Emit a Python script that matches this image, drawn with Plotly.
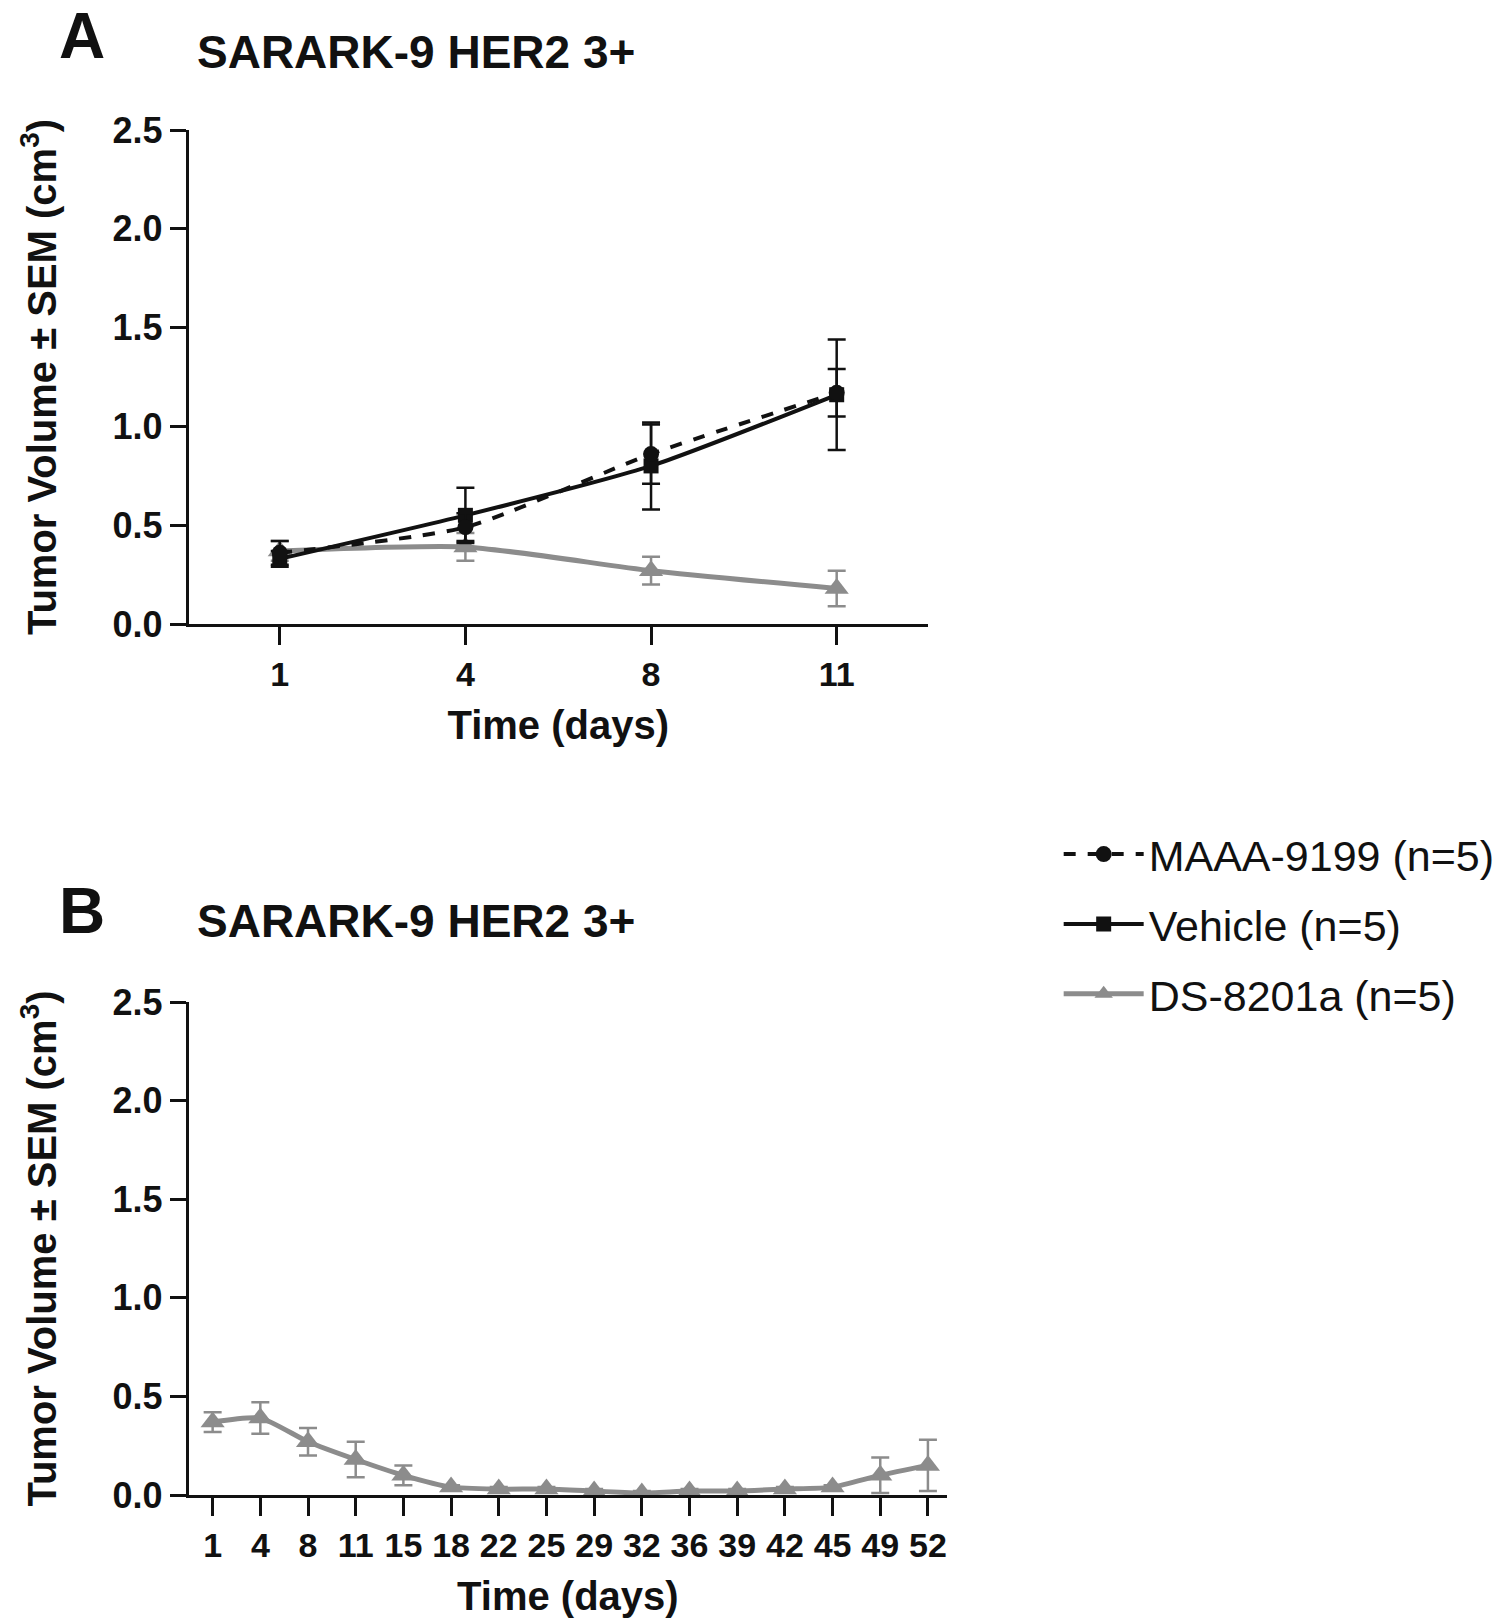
import plotly.graph_objects as go

# panel A (days 1-11)
days_a = ["1", "4", "8", "11"]
maaa_a = [0.36, 0.49, 0.86, 1.17]
maaa_a_err = [0.06, 0.07, 0.15, 0.12]
vehicle_a = [0.33, 0.55, 0.80, 1.16]
vehicle_a_err = [0.04, 0.14, 0.22, 0.28]
ds_a = [0.37, 0.39, 0.27, 0.18]
ds_a_err = [0.05, 0.07, 0.07, 0.09]

# panel B (DS-8201a up to day 52)
days_b = ["1", "4", "8", "11", "15", "18", "22", "25", "29", "32", "36", "39", "42", "45", "49", "52"]
ds_b = [0.37, 0.39, 0.27, 0.18, 0.10, 0.04, 0.03, 0.03, 0.02, 0.01, 0.02, 0.02, 0.03, 0.04, 0.10, 0.15]
ds_b_err = [0.05, 0.08, 0.07, 0.09, 0.05, 0.01, 0.01, 0.01, 0.01, 0.01, 0.01, 0.01, 0.01, 0.01, 0.09, 0.13]

y_ticks = [0.0, 0.5, 1.0, 1.5, 2.0, 2.5]

BLACK = "#111111"
GREY = "#8c8c8c"
ARIAL = "Liberation Sans, Arial"

fig = go.Figure()

def err(vals, color):
    return dict(type="data", array=vals, visible=True, color=color, thickness=2.5, width=9)

fig.add_trace(go.Scatter(x=days_a, y=ds_a, error_y=err(ds_a_err, GREY), mode="lines+markers",
                         name="DS-8201a (n=5)", legendgroup="c", legendrank=3,
                         line=dict(color=GREY, width=5, shape="spline", smoothing=0.6),
                         marker=dict(symbol="triangle-up", size=21, color=GREY),
                         xaxis="x", yaxis="y"))
fig.add_trace(go.Scatter(x=days_a, y=vehicle_a, error_y=err(vehicle_a_err, BLACK), mode="lines+markers",
                         name="Vehicle (n=5)", legendgroup="b", legendrank=2,
                         line=dict(color=BLACK, width=4, shape="spline", smoothing=0.6),
                         marker=dict(symbol="square", size=15, color=BLACK),
                         xaxis="x", yaxis="y"))
fig.add_trace(go.Scatter(x=days_a, y=maaa_a, error_y=err(maaa_a_err, BLACK), mode="lines+markers",
                         name="MAAA-9199 (n=5)", legendgroup="a", legendrank=1,
                         line=dict(color=BLACK, width=4, dash="dash", shape="spline", smoothing=0.6),
                         marker=dict(symbol="circle", size=16, color=BLACK),
                         xaxis="x", yaxis="y"))
fig.add_trace(go.Scatter(x=days_b, y=ds_b, error_y=err(ds_b_err, GREY), mode="lines+markers",
                         name="DS-8201a (n=5)", legendgroup="c", showlegend=False,
                         line=dict(color=GREY, width=5, shape="spline", smoothing=0.6),
                         marker=dict(symbol="triangle-up", size=21, color=GREY),
                         xaxis="x2", yaxis="y2"))

ytitle = "Tumor Volume ± SEM (cm<sup>3</sup>)"

def xaxis(dom, rng, anchor):
    return dict(domain=dom, range=rng, type="category", anchor=anchor, automargin=False,
                tickvals=days_b, ticktext=["<b>%s</b>" % d for d in days_b],
                showline=True, linecolor=BLACK, linewidth=3, showgrid=False, zeroline=False,
                ticks="outside", ticklen=18, tickwidth=3, tickcolor=BLACK,
                tickfont=dict(family=ARIAL, size=34, color=BLACK),
                title=dict(text="<b>Time (days)</b>", font=dict(family=ARIAL, size=40, color=BLACK), standoff=20))

def yaxis(dom, anchor):
    return dict(domain=dom, range=[0, 2.5], anchor=anchor, automargin=False,
                tickvals=y_ticks, ticktext=["<b>%.1f</b>" % v for v in y_ticks],
                showline=True, linecolor=BLACK, linewidth=3, showgrid=False, zeroline=False,
                ticks="outside", ticklen=16, tickwidth=3, tickcolor=BLACK,
                tickfont=dict(family=ARIAL, size=36, color=BLACK),
                title=dict(text="<b>" + ytitle + "</b>", font=dict(family=ARIAL, size=40, color=BLACK), standoff=44))

fig.update_layout(
    width=1500, height=1623, margin=dict(l=0, r=0, t=0, b=0),
    paper_bgcolor="white", plot_bgcolor="white",
    xaxis=xaxis([0.1268, 0.623], [-0.49, 3.49], "y"),
    yaxis=yaxis([1 - 624 / 1623, 1 - 130 / 1623], "x"),
    xaxis2=xaxis([0.1268, 0.636], [-0.5, 15.4], "y2"),
    yaxis2=yaxis([1 - 1495 / 1623, 1 - 1002 / 1623], "x2"),
    legend=dict(x=0.711, y=0.495, xanchor="left", yanchor="top", tracegroupgap=11, itemwidth=80,
                font=dict(family=ARIAL, size=43, color=BLACK), bgcolor="rgba(0,0,0,0)"),
    showlegend=True,
)

for txt, y in [("A", 0.978), ("B", 0.4387)]:
    fig.add_annotation(text="<b>%s</b>" % txt, x=0.055, y=y, xref="paper", yref="paper", xanchor="center",
                       yanchor="middle", showarrow=False, font=dict(family=ARIAL, size=64, color=BLACK))
for y in [0.968, 0.4325]:
    fig.add_annotation(text="<b>SARARK-9 HER2 3+</b>", x=0.131, y=y, xref="paper", yref="paper",
                       xanchor="left", yanchor="middle", showarrow=False,
                       font=dict(family=ARIAL, size=46, color=BLACK))

fig.write_html("out.html", config={"displayModeBar": False},
               post_script="document.body.style.margin='0px';")
